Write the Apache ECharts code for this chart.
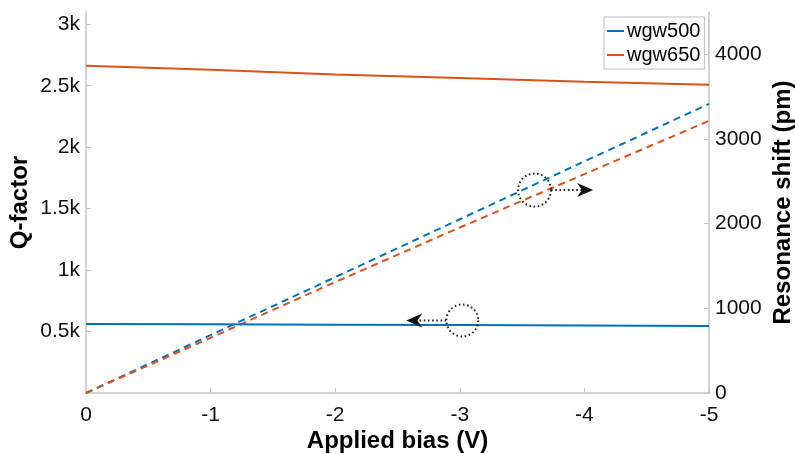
<!DOCTYPE html>
<html>
<head>
<meta charset="utf-8">
<script src="https://cdn.jsdelivr.net/npm/echarts@6/dist/echarts.min.js"></script>
<style>
  html, body { margin: 0; padding: 0; background: #ffffff; }
  #chart { width: 795px; height: 454px; }
</style>
</head>
<body>
<div id="chart"></div>
<script>
// Applied bias (V), from 0 V down to -5 V
const bias = [0, -1, -2, -3, -4, -5];

// Q-factor (left axis)
const qWgw500 = [562, 559, 556, 553, 549, 546];
const qWgw650 = [2663, 2630, 2592, 2562, 2533, 2508];

// Resonance shift in pm (right axis)
const shiftWgw500 = [0, 684, 1368, 2052, 2736, 3415];
const shiftWgw650 = [0, 652, 1310, 1955, 2585, 3215];

// Axis ticks
const qTicks = [500, 1000, 1500, 2000, 2500, 3000];
const shiftTicks = [0, 1000, 2000, 3000, 4000];
const biasTicks = [0, -1, -2, -3, -4, -5];

const seriesNames = ['wgw500', 'wgw650'];
const colors = ['#0072BD', '#D95319'];

const FONT = '"Liberation Sans", Arial, Helvetica, sans-serif';
const AXIS_GRAY = '#c4c4c4';

function pairs(xs, ys) {
  return xs.map((x, i) => [x, ys[i]]);
}

const chart = echarts.init(document.getElementById('chart'), null, { renderer: 'canvas' });

const axisLabelBase = { color: '#111111', fontSize: 21, fontFamily: FONT };
const axisNameBase = { color: '#000000', fontSize: 24, fontWeight: 'bold', fontFamily: FONT };

chart.setOption({
  animation: false,
  backgroundColor: '#ffffff',
  grid: { left: 86, right: 86, top: 12, bottom: 61, containLabel: false, outerBoundsMode: 'none' },
  legend: {
    data: seriesNames,
    orient: 'vertical',
    left: 604,
    top: 17,
    padding: [4, 4, 4, 3],
    itemGap: 4,
    itemWidth: 17,
    itemHeight: 2,
    icon: 'rect',
    borderColor: '#bdbdbd',
    borderWidth: 1,
    backgroundColor: '#ffffff',
    textStyle: { color: '#000000', fontSize: 20, fontFamily: FONT, padding: [0, 0, 0, -2] }
  },
  xAxis: {
    type: 'value',
    inverse: true,
    min: -5,
    max: 0,
    interval: 1,
    name: 'Applied bias (V)',
    nameLocation: 'middle',
    nameGap: 36,
    nameMoveOverlap: false,
    nameTextStyle: axisNameBase,
    axisLine: { show: true, onZero: false, lineStyle: { color: AXIS_GRAY, width: 1.5 } },
    axisTick: { show: true, inside: true, length: 5, lineStyle: { color: AXIS_GRAY }, customValues: biasTicks },
    axisLabel: Object.assign({ margin: 12, customValues: biasTicks, formatter: v => String(v) }, axisLabelBase),
    splitLine: { show: false }
  },
  yAxis: [
    {
      type: 'value',
      position: 'left',
      min: 0,
      max: 3100,
      name: 'Q-factor',
      nameLocation: 'middle',
      nameGap: 54,
      nameMoveOverlap: false,
      nameTextStyle: axisNameBase,
      axisLine: { show: true, onZero: false, lineStyle: { color: AXIS_GRAY, width: 1.5 } },
      axisTick: { show: true, inside: true, length: 5, lineStyle: { color: AXIS_GRAY }, customValues: qTicks },
      axisLabel: Object.assign({
        margin: 6,
        customValues: qTicks,
        formatter: v => (v / 1000) + 'k'
      }, axisLabelBase),
      splitLine: { show: false }
    },
    {
      type: 'value',
      position: 'right',
      min: 0,
      max: 4500,
      name: 'Resonance shift (pm)',
      nameLocation: 'middle',
      nameGap: 62,
      nameMoveOverlap: false,
      nameTextStyle: axisNameBase,
      axisLine: { show: true, onZero: false, lineStyle: { color: AXIS_GRAY, width: 1.5 } },
      axisTick: { show: true, inside: true, length: 5, lineStyle: { color: AXIS_GRAY }, customValues: shiftTicks },
      axisLabel: Object.assign({ margin: 6, customValues: shiftTicks, formatter: v => String(v) }, axisLabelBase),
      splitLine: { show: false }
    }
  ],
  series: [
    {
      name: seriesNames[0], type: 'line', yAxisIndex: 0, showSymbol: false, symbol: 'none',
      data: pairs(bias, qWgw500), color: colors[0],
      lineStyle: { color: colors[0], width: 2 }, z: 3
    },
    {
      name: seriesNames[1], type: 'line', yAxisIndex: 0, showSymbol: false, symbol: 'none',
      data: pairs(bias, qWgw650), color: colors[1],
      lineStyle: { color: colors[1], width: 2 }, z: 3
    },
    {
      name: seriesNames[0] + ' shift', type: 'line', yAxisIndex: 1, showSymbol: false, symbol: 'none',
      data: pairs(bias, shiftWgw500), color: colors[0],
      lineStyle: { color: colors[0], width: 2, type: [7, 5] }, z: 2
    },
    {
      name: seriesNames[1] + ' shift', type: 'line', yAxisIndex: 1, showSymbol: false, symbol: 'none',
      data: pairs(bias, shiftWgw650), color: colors[1],
      lineStyle: { color: colors[1], width: 2, type: [7, 5] }, z: 2
    }
  ]
});

// Dotted circle + arrow pointing to the axis a set of curves belongs to
function axisPointer(center, tipX, yAxisIndex, radius) {
  const c = chart.convertToPixel({ xAxisIndex: 0, yAxisIndex: yAxisIndex }, center);
  const tip = chart.convertToPixel({ xAxisIndex: 0, yAxisIndex: yAxisIndex }, [tipX, center[1]]);
  const dir = Math.sign(tip[0] - c[0]);
  const start = c[0] + dir * radius;
  const headLen = 16, headHalf = 7;
  const dotted = { stroke: '#222222', lineWidth: 2, lineDash: [1.6, 2.6], fill: null };
  return [
    { type: 'circle', shape: { cx: c[0], cy: c[1], r: radius }, style: dotted, z: 10 },
    { type: 'line', shape: { x1: start, y1: c[1], x2: tip[0] - dir * headLen * 0.7, y2: c[1] }, style: dotted, z: 10 },
    {
      type: 'polygon',
      shape: { points: [
        [tip[0], c[1]],
        [tip[0] - dir * headLen, c[1] - headHalf],
        [tip[0] - dir * headLen * 0.7, c[1]],
        [tip[0] - dir * headLen, c[1] + headHalf]
      ] },
      style: { fill: '#111111', stroke: null },
      z: 10
    }
  ];
}

chart.setOption({
  graphic: [].concat(
    axisPointer([-3.02, 590], -2.57, 0, 16),
    axisPointer([-3.60, 2397], -4.07, 1, 16.5)
  )
});
</script>
</body>
</html>
